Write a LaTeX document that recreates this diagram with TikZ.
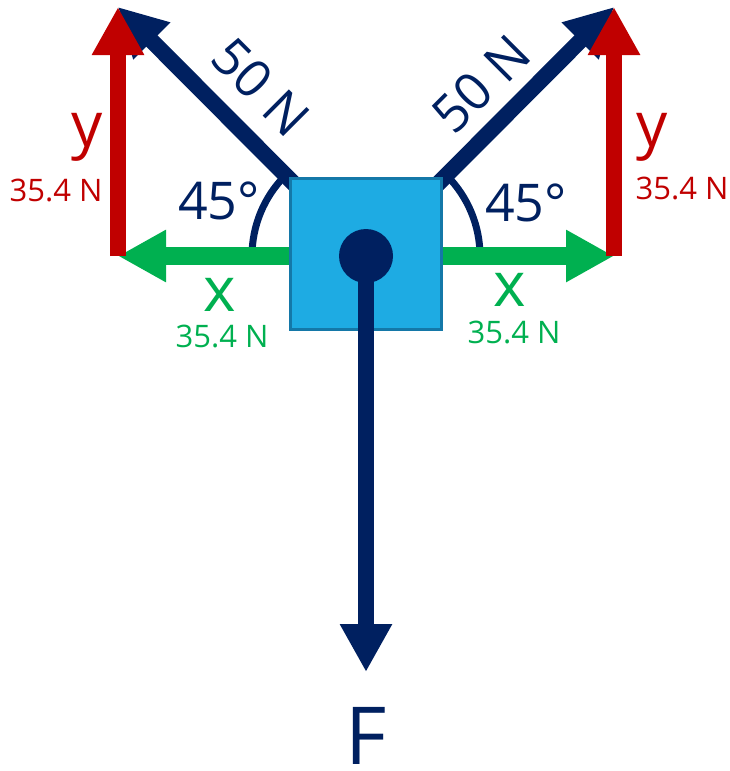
\documentclass[tikz,border=0pt]{standalone}
\usepackage{fontspec}
\setmainfont{Open Sans}
\usetikzlibrary{arrows.meta}

\definecolor{navy}{HTML}{002060}
\definecolor{fred}{HTML}{C00000}
\definecolor{fgreen}{HTML}{00B050}
\definecolor{boxfill}{HTML}{1EABE3}
\definecolor{boxedge}{HTML}{1478A8}

\tikzset{
	force/.style={line width=16pt,-{Triangle[length=48pt,width=49pt]}},
	anglearc/.style={navy,line width=7pt},
	biglbl/.style={inner sep=0pt,font=\fontsize{52}{56}\selectfont},
	comp/.style={inner sep=0pt,font=\fontsize{62}{66}\selectfont},
	val/.style={inner sep=0pt,font=\fontsize{31}{34}\selectfont},
}

\begin{document}
\begin{tikzpicture}[x=1pt,y=-1pt]
		\useasboundingbox (0,0) rectangle (729,771);
		\coordinate (c) at (366,256);
		% tips of the forces
		\coordinate (tl) at (118,7);
		\coordinate (tr) at (614,7);
		\coordinate (xl) at (118,256);
		\coordinate (xr) at (614,256);
		\coordinate (fd) at (366,672);
		
		% angle arcs
		\draw[anglearc] (c) ++(180:114) arc[start angle=180,end angle=225,radius=114];
		\draw[anglearc] (c) ++(0:114) arc[start angle=0,end angle=-45,radius=114];
		
		% tension forces
		\draw[force,navy] (c) -- (tl);
		\draw[force,navy] (c) -- (tr);
		% components
		\draw[force,fgreen,line width=18pt] (c) -- (xl);
		\draw[force,fgreen,line width=18pt] (c) -- (xr);
		\draw[force,fred] (xl) -- (tl);
		\draw[force,fred] (xr) -- (tr);
		
		% block
		\node[draw=boxedge,fill=boxfill,line width=3.5pt,minimum size=151pt,inner sep=0pt] (box) at (366,254) {};
		\node[circle,fill=navy,minimum size=54pt,inner sep=0pt] (dot) at (c) {};
		\draw[force,navy] (c) -- (fd);
		
		% labels
		\node[biglbl,navy,rotate=-45] (tl50) at (261,87) {50 N};
		\node[biglbl,navy,rotate=45] (tr50) at (481,84) {50 N};
		\node[biglbl,navy] (angl) at (219,201) {45°};
		\node[biglbl,navy] (angr) at (526,203) {45°};
		\node[comp,fred] (yl) at (87,137) {y};
		\node[comp,fred] (yr) at (652,137) {y};
		\node[val,fred] (yvl) at (56,190) {35.4 N};
		\node[val,fred] (yvr) at (682,188) {35.4 N};
		\node[comp,fgreen] (xll) at (220,295) {x};
		\node[comp,fgreen] (xrl) at (510,290) {x};
		\node[val,fgreen] (xvl) at (222,336) {35.4 N};
		\node[val,fgreen] (xvr) at (514,332) {35.4 N};
		\node[inner sep=0pt,navy,font=\fontsize{80}{84}\selectfont] (flbl) at (366,736) {F};
	\end{tikzpicture}
\end{document}
